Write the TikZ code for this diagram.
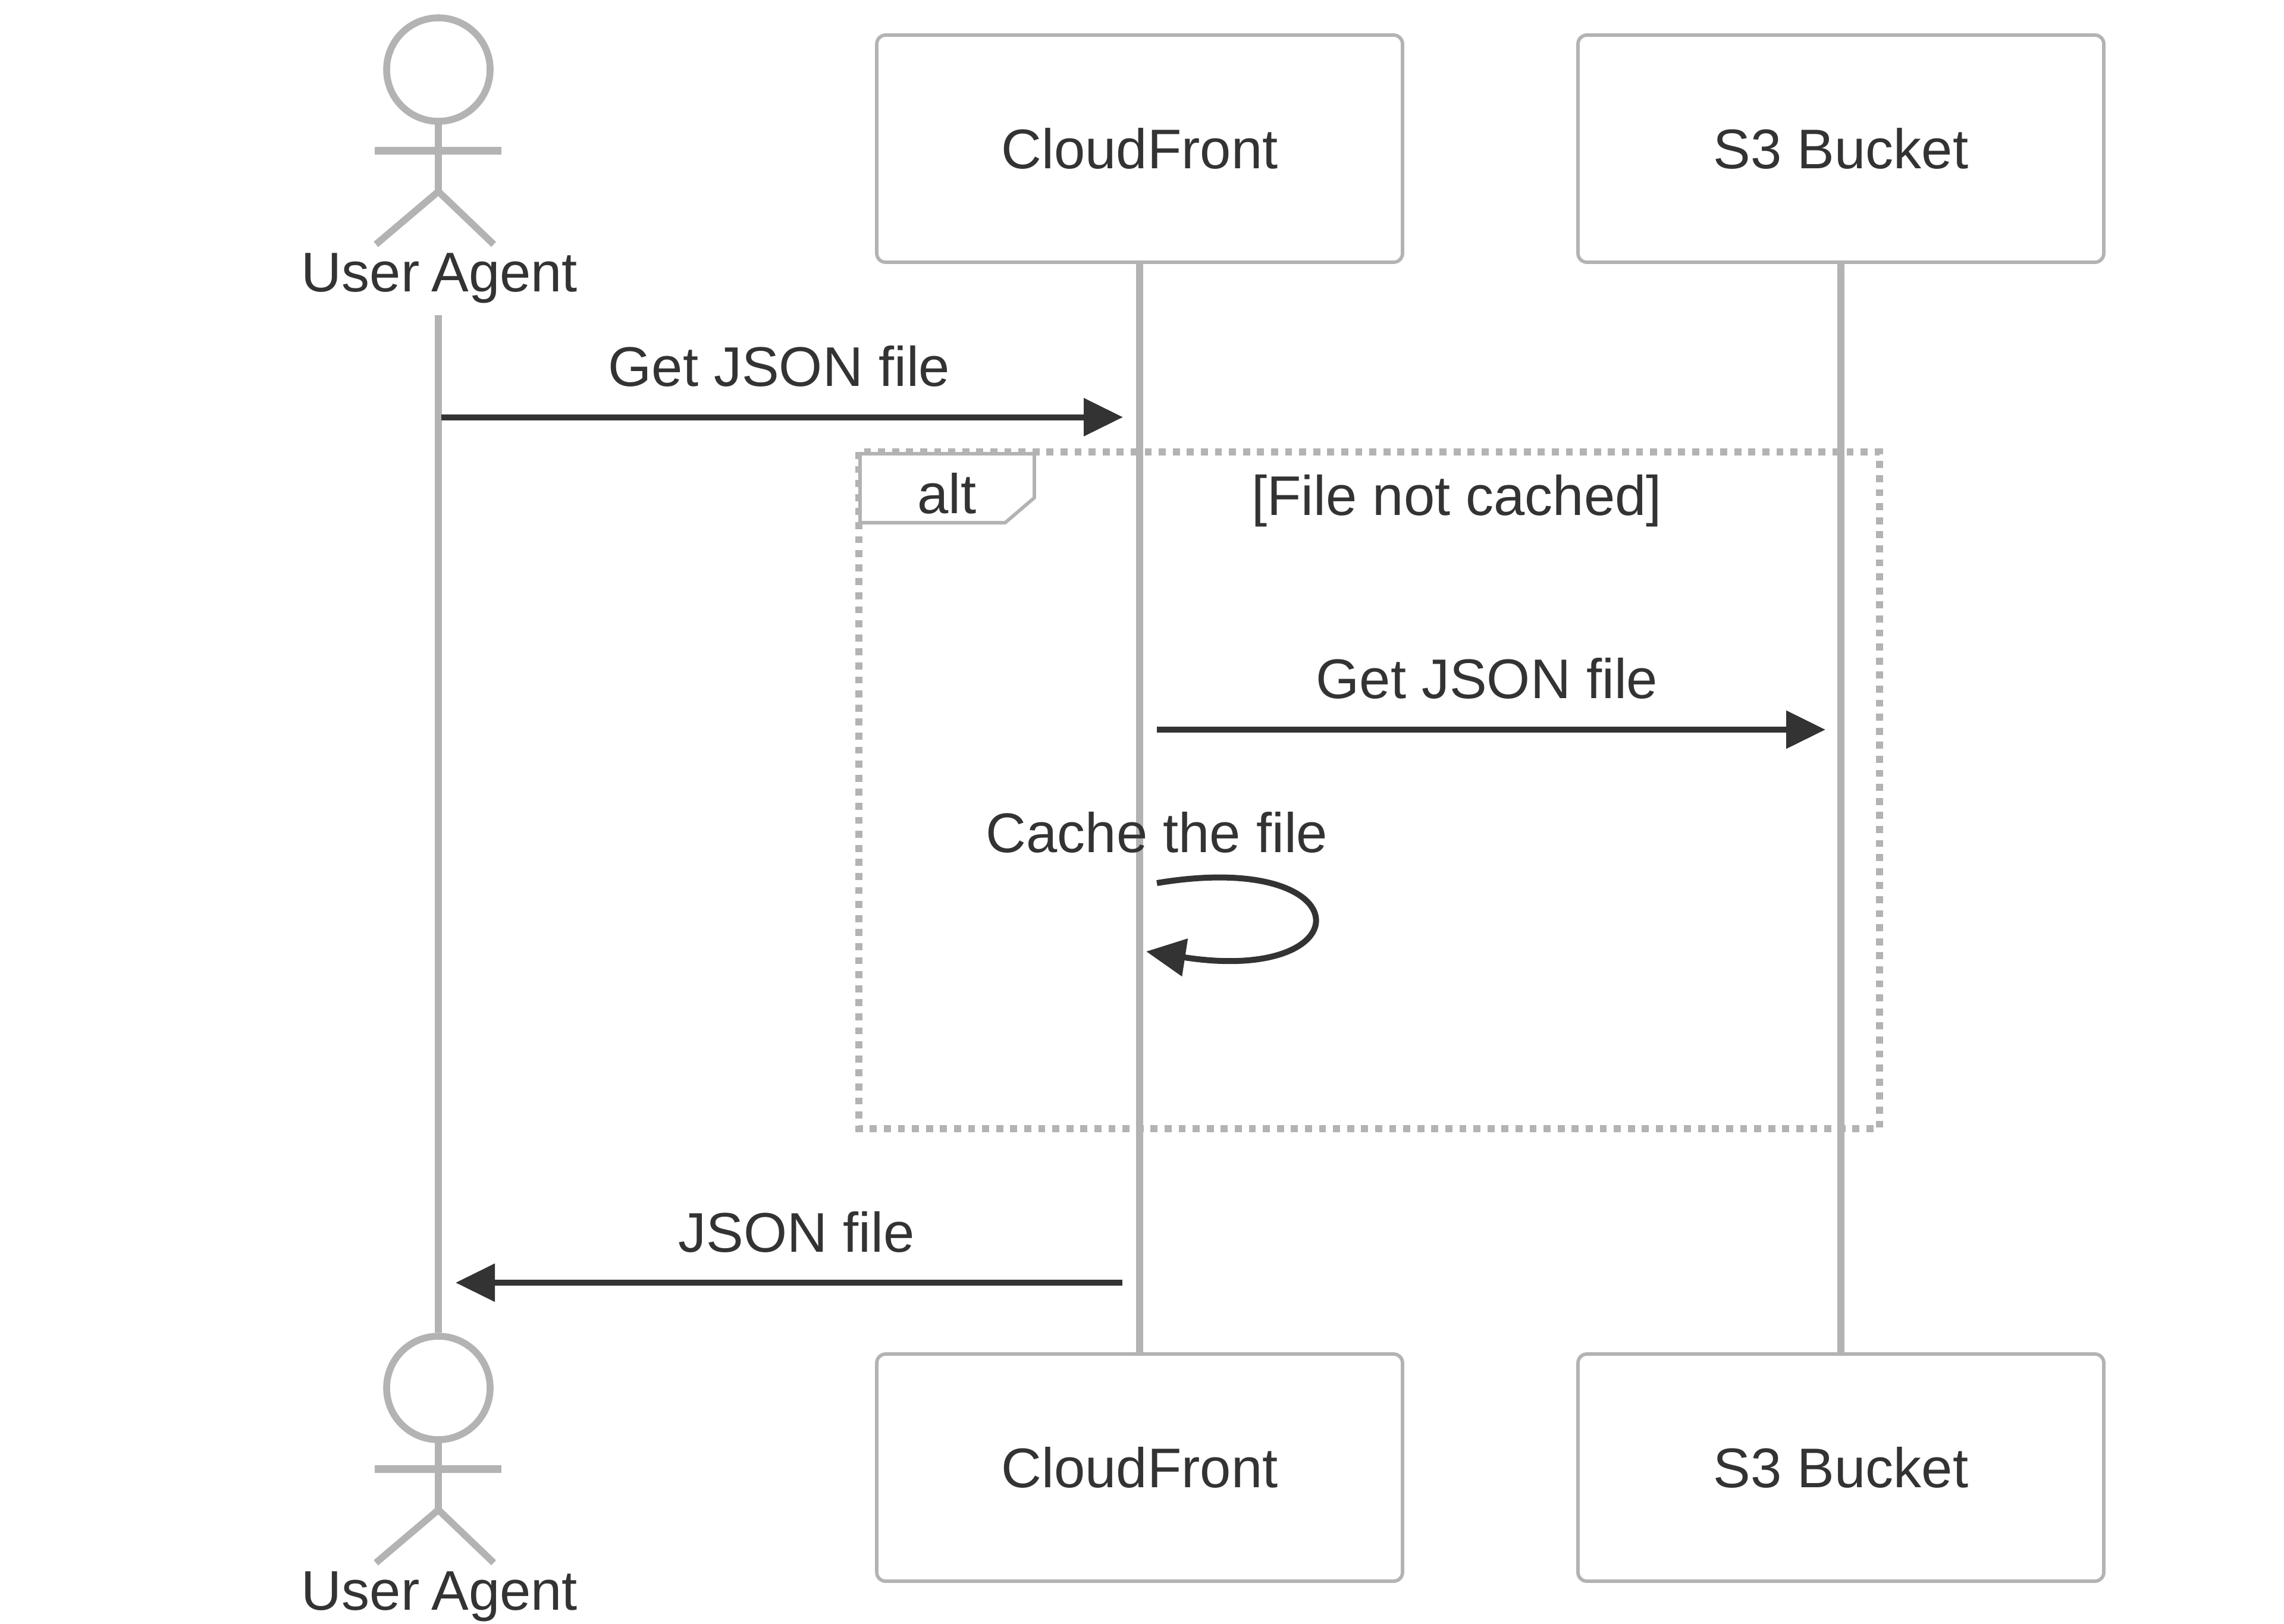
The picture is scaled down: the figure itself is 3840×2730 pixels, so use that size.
\documentclass[tikz,border=0pt]{standalone}
\usepackage{fontspec}
\setmainfont{Liberation Sans}
\usetikzlibrary{arrows.meta}
\definecolor{ink}{HTML}{333333}
\definecolor{rule}{HTML}{B3B3B3}
\tikzset{
  label/.style={inner sep=0pt,outer sep=0pt,anchor=base,text=ink,font=\fontsize{94}{100}\selectfont},
  actorbox/.style={draw=rule,line width=5.8pt,fill=white,rounded corners=15pt,minimum width=884pt,minimum height=382pt,inner sep=0pt,outer sep=0pt,text=ink,font=\fontsize{94}{100}\selectfont},
  lifeline/.style={draw=rule,line width=11.6pt},
  stick/.style={draw=rule,line width=11.6pt},
  arm/.style={draw=rule,line width=13pt},
  head/.style={draw=rule,line width=11.6pt,fill=white},
  message/.style={draw=ink,line width=10pt,-{Triangle[length=66pt,width=62pt,fill=ink]}},
  framebox/.style={draw=rule,line width=11.6pt,dash pattern=on 11.8pt off 11.8pt},
  labelbox/.style={draw=rule,line width=5.8pt,fill=white}
}
\begin{document}
\begin{tikzpicture}[x=1pt,y=-1pt]
\useasboundingbox (0,0) rectangle (3840,2730);
% named points
\coordinate (ualifetop) at (737,530);
\coordinate (ualifebot) at (737,2241);
\coordinate (m1a) at (742,701.5);
\coordinate (m1b) at (1888,701.5);
\coordinate (m2a) at (1945,1227);
\coordinate (m2b) at (3069,1227);
\coordinate (loopa) at (1945,1485);
\coordinate (loopb) at (1927,1600);
\coordinate (m3a) at (1887,2157);
\coordinate (m3b) at (766,2157);
% boxes
\node[actorbox] (cftop) at (1916,250) {CloudFront};
\node[actorbox] (s3top) at (3095,250) {S3 Bucket};
\node[actorbox] (cfbot) at (1916,2468) {CloudFront};
\node[actorbox] (s3bot) at (3095,2468) {S3 Bucket};
% lifelines
\draw[lifeline] (ualifetop) -- (ualifebot);
\draw[lifeline] (cftop.south) -- (cfbot.north);
\draw[lifeline] (s3top.south) -- (s3bot.north);
% frame
\draw[framebox] (1444,760) rectangle (3160,1898);
\draw[labelbox] (1446,763) -- (1739,763) -- (1739,837) -- (1690,879) -- (1446,879) -- cycle;
\node[label] (altlabel) at (1592,863) {alt};
\node[label] (altcond) at (2449,866) {[File not cached]};
% top actor
\draw[head] (737,117) circle (87pt);
\draw[stick] (737,204) -- (737,322);
\draw[arm] (630,253) -- (843,253);
\draw[stick] (632,411) -- (737,322) -- (830,411);
\node[label] (uatop) at (739,490) {User\kern-6pt\ Agent};
% bottom actor
\draw[head] (737,2334) circle (87pt);
\draw[stick] (737,2421) -- (737,2539);
\draw[arm] (630,2470) -- (843,2470);
\draw[stick] (632,2628) -- (737,2539) -- (830,2628);
\node[label] (uabot) at (739,2707) {User\kern-6pt\ Agent};
% messages
\node[label] (l1) at (1310,649) {Get JSON file};
\draw[message] (m1a) -- (m1b);
\node[label] (l2) at (2500,1174) {Get JSON file};
\draw[message] (m2a) -- (m2b);
\node[label] (l3) at (1945,1433) {Cache the file};
\draw[message] (loopa) .. controls (2294,1427) and (2294,1657) .. (loopb);
\node[label] (l4) at (1339,2105) {JSON file};
\draw[message] (m3a) -- (m3b);
\end{tikzpicture}
\end{document}
